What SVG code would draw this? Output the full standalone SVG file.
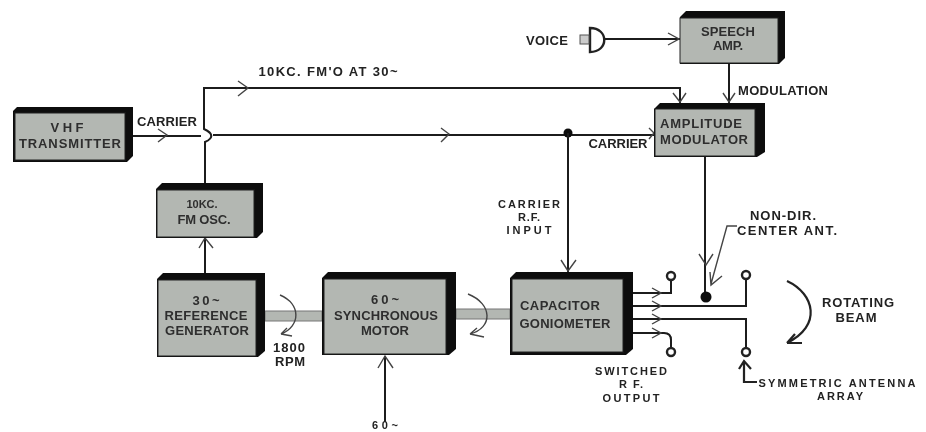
<svg xmlns="http://www.w3.org/2000/svg" width="926" height="432" viewBox="0 0 926 432">
<defs>
<style>
text{font-family:"Liberation Sans",Arial,sans-serif;font-weight:700;fill:#222;text-anchor:middle}
.l{font-size:13px}
.t{font-size:11px}
.b{font-size:13px;fill:#2e2e2e}
.s{fill:#111}
.g{fill:#b3b7b2;stroke:#222;stroke-width:1}
.w{fill:none;stroke:#1a1a1a;stroke-width:2}
.a{fill:none;stroke:#444;stroke-width:1.4}
.rb{fill:none;stroke:#222;stroke-width:2.2}
.ant{fill:#fff;stroke:#222;stroke-width:2.4}
.shaft{fill:#b3b7b2;stroke:#777;stroke-width:1}
</style>
<filter id="soft" x="0" y="0" width="100%" height="100%"><feGaussianBlur stdDeviation="0.45"/></filter>
</defs>
<rect width="926" height="432" fill="#fff"/>
<g filter="url(#soft)">
<g id="connectors">
<rect class="shaft" x="265" y="311" width="57" height="10"/>
<rect class="shaft" x="456" y="309" width="54" height="10"/>
<path class="w" d="M132 136H201M213 135H654"/>
<path class="w" d="M205 183V142C210 140 212 137 211 135C211 133 208 131 204 129V88H680V103"/>
<path class="a" d="M158 129L167 135L158 142M238 81L248 88L238 96M441 128L449 134L441 142M649 128L654 133L649 139M673 93L680 102L686 93"/>
<circle cx="568" cy="133" r="4.5" fill="#111"/>
<path class="w" d="M568 133V272"/>
<path class="a" d="M561 260L568 271L576 260"/>
<path class="w" d="M205 273V238"/>
<path class="a" d="M199 248L205 238L213 248"/>
<path class="w" d="M385 422V356"/>
<path class="a" d="M378 368L385 356L393 368"/>
<path class="w" d="M729 64V103"/>
<path class="a" d="M723 93L729 102L735 93"/>
<path class="w" d="M604 39H680"/>
<path class="a" d="M668 33L679 39L668 45"/>
<path class="w" d="M705 157V296"/>
<path class="a" d="M699 254L706 265L713 254"/>
<circle cx="706" cy="297" r="5.5" fill="#111"/>
<path class="a" d="M737 226H727L711 284M710 272L711 285L722 276"/>
<path class="w" d="M633 293H671V279M633 306H746V279M633 319H746V348M633 333H664Q671 333 671 340V348"/>
<path class="a" d="M652 288L661 293L652 298M652 301L661 306L652 311M652 314L661 319L652 324M652 328L661 333L652 338"/>
<path class="rb" d="M787 281C815 294 822 326 787 343M787 343L802 343M787 343L795 334"/>
<path class="rb" d="M757 382H744V361M739 369L744 361L751 369"/>
<path class="a" d="M280 295C301 304 301 326 281 334M281 334L292 336M281 334L287 328"/>
<path class="a" d="M468 294C493 304 493 328 470 334M470 334L484 337M470 334L477 328"/>
</g>
<g id="vhf-transmitter"><path class="s" d="M17 107H133V156L127 162H13V111Z"/><rect class="g" x="15" y="113" width="110" height="47"/><text class="b" x="67" y="132" textLength="33">VHF</text><text class="b" x="70" y="148" textLength="102">TRANSMITTER</text></g>
<g id="speech-amp"><path class="s" d="M686 11H785V58L779 64H680V17Z"/><rect class="g" x="680" y="18" width="98" height="45"/><text class="b" x="728" y="36" textLength="54">SPEECH</text><text class="b" x="728" y="50" textLength="30">AMP.</text></g>
<g id="amplitude-modulator"><path class="s" d="M660 103H765V152L757 157H654V109Z"/><rect class="g" x="655" y="109" width="100" height="47"/><text class="b" x="701" y="128" textLength="82">AMPLITUDE</text><text class="b" x="704" y="144" textLength="88">MODULATOR</text></g>
<g id="fm-osc"><path class="s" d="M162 183H263V232L257 238H156V189Z"/><rect class="g" x="157" y="190" width="97" height="47"/><text class="b" x="202" y="208" style="font-size:11px">10KC.</text><text class="b" x="204" y="224" textLength="53">FM OSC.</text></g>
<g id="reference-generator"><path class="s" d="M163 273H265V351L258 357H157V279Z"/><rect class="g" x="158" y="280" width="98" height="76"/><text class="b" x="206" y="305" textLength="27">30~</text><text class="b" x="206" y="320" textLength="83">REFERENCE</text><text class="b" x="207" y="335" textLength="84">GENERATOR</text></g>
<g id="synchronous-motor"><path class="s" d="M328 272H456V349L449 355H322V278Z"/><rect class="g" x="324" y="279" width="122" height="75"/><text class="b" x="385" y="304" textLength="28">60~</text><text class="b" x="386" y="320" textLength="104">SYNCHRONOUS</text><text class="b" x="385" y="335" textLength="48">MOTOR</text></g>
<g id="capacitor-goniometer"><path class="s" d="M516 272H633V349L626 355H510V278Z"/><rect class="g" x="512" y="279" width="111" height="73"/><text class="b" x="560" y="310" textLength="80">CAPACITOR</text><text class="b" x="565" y="328" textLength="91">GONIOMETER</text></g>
<g id="voice-mic"><path d="M590 28C609 28 609 52 590 52Z" fill="#fff" stroke="#222" stroke-width="2.4"/><rect x="580" y="35" width="9" height="9" fill="#ccc" stroke="#555"/></g>
<g id="ant-tl"><circle class="ant" cx="671" cy="276" r="4"/></g>
<g id="ant-tr"><circle class="ant" cx="746" cy="275" r="4"/></g>
<g id="ant-bl"><circle class="ant" cx="671" cy="352" r="4"/></g>
<g id="ant-br"><circle class="ant" cx="746" cy="352" r="4"/></g>
<g id="labels">
<text class="l" x="328" y="76" textLength="139">10KC. FM'O AT 30~</text>
<text class="l" x="167" y="126" textLength="60">CARRIER</text>
<text class="l" x="547" y="45" textLength="42">VOICE</text>
<text class="l" x="783" y="95" textLength="90">MODULATION</text>
<text class="l" x="618" y="148" textLength="59">CARRIER</text>
<text class="t" x="529" y="208" textLength="62">CARRIER</text>
<text class="t" x="529" y="221" textLength="22">R.F.</text>
<text class="t" x="529" y="234" textLength="45">INPUT</text>
<text class="l" x="783" y="220" textLength="66">NON-DIR.</text>
<text class="l" x="787" y="235" textLength="100">CENTER ANT.</text>
<text class="l" x="858" y="307" textLength="72">ROTATING</text>
<text class="l" x="856" y="322" textLength="41">BEAM</text>
<text class="t" x="631" y="375" textLength="72">SWITCHED</text>
<text class="t" x="631" y="388" textLength="24">R F.</text>
<text class="t" x="631" y="402" textLength="57">OUTPUT</text>
<text class="t" x="837" y="387" textLength="157">SYMMETRIC ANTENNA</text>
<text class="t" x="840" y="400" textLength="46">ARRAY</text>
<text class="l" x="289" y="352" textLength="32">1800</text>
<text class="l" x="290" y="366" textLength="30">RPM</text>
<text class="t" x="385" y="429" textLength="26">60~</text>
</g>
</g>
</svg>
